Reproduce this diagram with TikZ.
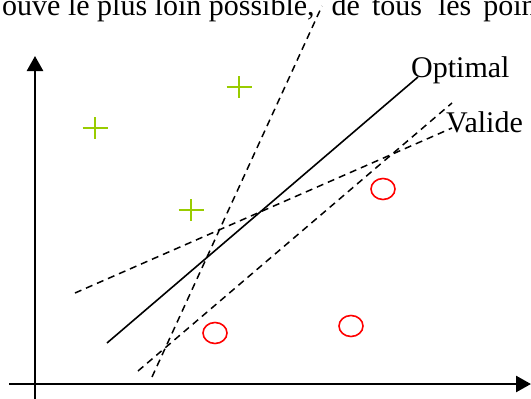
\documentclass[tikz,border=0pt]{standalone}
\usepackage{fontspec}
\setmainfont{Liberation Serif}
\usetikzlibrary{arrows.meta,shapes.geometric}
\definecolor{crossgreen}{HTML}{99CC00}
\definecolor{ringred}{HTML}{FF0000}
\tikzset{
  axis/.style={line width=2.6pt,-{Triangle[length=15pt,width=16pt]}},
  sep/.style={line width=1.5pt,dash pattern=on 7pt off 5pt},
  best/.style={line width=1.6pt},
  ring/.style={draw=ringred,line width=1.6pt,ellipse,minimum width=24pt,minimum height=21pt,inner sep=0pt},
  plusmark/.pic={\draw[crossgreen,line width=1.6pt] (-12.5,0) -- (12.5,0) (0,-11) -- (0,11);},
  lbl/.style={font=\fontsize{30}{36}\selectfont,inner sep=0pt,anchor=base west}
}
\begin{document}
\begin{tikzpicture}[x=1pt,y=-1pt]
\useasboundingbox (0,0) rectangle (531,399);
\clip (0,0) rectangle (531,399);
% title fragment
\node[lbl] (title) at (2,15) {ouve le plus loin possible,\hspace{17pt}de\hspace{12pt}tous\hspace{16pt}les\hspace{12pt}points};
% axes
\coordinate (yb) at (35,400);
\coordinate (yt) at (35,56);
\coordinate (xl) at (9,384);
\coordinate (xr) at (531,384);
\draw[axis] (yb) -- (yt);
\draw[axis] (xl) -- (xr);
% crosses
\pic at (95,128) {plusmark};
\pic at (239,87) {plusmark};
\pic at (191,210) {plusmark};
% circles
\node[ring] (c1) at (215,333) {};
\node[ring] (c2) at (351,326) {};
\node[ring] (c3) at (383,189) {};
% optimal line
\coordinate (o1) at (107,343);
\coordinate (o2) at (418,77);
\draw[best] (o1) -- (o2);
% valid separators
\coordinate (a1) at (152,377);
\coordinate (a2) at (322,6);
\draw[sep] (a1) -- (a2);
\coordinate (b1) at (75,293);
\coordinate (b2) at (452,128);
\draw[sep] (b1) -- (b2);
\coordinate (d1) at (138,371);
\coordinate (d2) at (452,103);
\draw[sep] (d1) -- (d2);
% labels
\node[lbl] (opt) at (411,77) {Optimal};
\node[lbl] (val) at (446,132) {Valide};
\end{tikzpicture}
\end{document}
